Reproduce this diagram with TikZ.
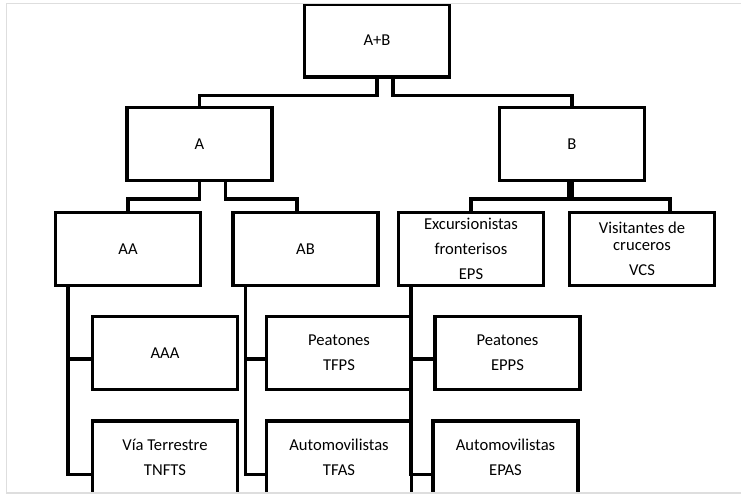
\documentclass[tikz,border=0pt]{standalone}
\usepackage{fontspec}
\setmainfont{Carlito}
\tikzset{
  orgbox/.style={draw, line width=3.3pt, align=center, minimum width=145pt, minimum height=73pt, inner sep=0pt, font=\fontsize{16.6pt}{25pt}\selectfont},
  link/.style={line width=3.3pt},
  frame/.style={draw=black!13, line width=1.5pt},
}

\begin{document}
\begin{tikzpicture}[x=1pt, y=-1pt]
    \useasboundingbox (0,0) rectangle (741,494);
    \begin{scope}
    \clip (6.5,3.5) rectangle (741,493);
    \node[orgbox] (ab) at (377,40.5) {A+B};
    \node[orgbox] (a) at (199.5,144) {A};
    \node[orgbox] (b) at (572,144) {B};
    \node[orgbox] (aa) at (128,249) {AA};
    \node[orgbox] (abx) at (305.5,249) {AB};
    \node[orgbox] (eps) at (471,249) {Excursionistas\\fronterisos\\EPS};
    \node[orgbox] (vcs) at (642,249) {Visitantes de\\[-8pt]cruceros\\VCS};
    \node[orgbox] (aaa) at (165,353) {AAA};
    \node[orgbox] (tfps) at (339,353) {Peatones\\TFPS};
    \node[orgbox] (epps) at (507.5,353) {Peatones\\EPPS};
    \node[orgbox] (tnfts) at (165,457.5) {Vía Terrestre\\TNFTS};
    \node[orgbox] (tfas) at (339,457.5) {Automovilistas\\TFAS};
    \node[orgbox] (epas) at (505.5,457.5) {Automovilistas\\EPAS};
    \draw[link] (ab.south) -- ++(0,17) -| (a.north);
    \draw[link] ([xshift=16pt]ab.south) -- ++(0,17) -| (b.north);
    \draw[link] (a.south) -- ++(0,17) -| (aa.north);
    \draw[link] ([xshift=26pt]a.south) -- ++(0,17) -| ([xshift=-8.5pt]abx.north);
    \draw[link] ([xshift=-3pt]b.south) -- ++(0,17) -| (eps.north);
    \draw[link] (b.south) -- ++(0,17) -| ([xshift=28pt]vcs.north);
    \draw[link] ([xshift=14pt]aa.south west) |- ([yshift=-6pt]aaa.west);
    \draw[link] ([xshift=14pt]aa.south west) |- ([yshift=-17pt]tnfts.west);
    \draw[link] ([xshift=14pt]abx.south west) |- ([yshift=-6pt]tfps.west);
    \draw[link] ([xshift=14pt]abx.south west) |- ([yshift=-17pt]tfas.west);
    \draw[link] ([xshift=14pt]eps.south west) |- ([yshift=-6pt]epps.west);
    \draw[link] ([xshift=14pt]eps.south west) |- ([yshift=-17pt]epas.west);
    \end{scope}
    \draw[frame] (741,3.5) -- (6.5,3.5) -- (6.5,493) -- (741,493);
  \end{tikzpicture}
\end{document}
